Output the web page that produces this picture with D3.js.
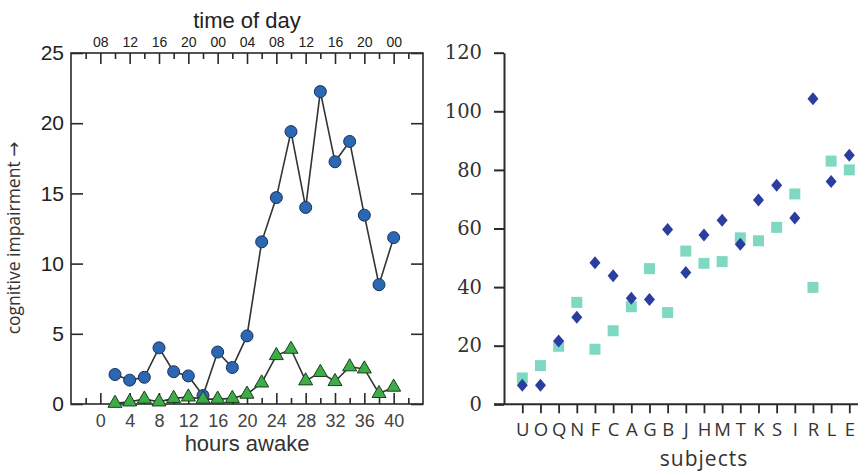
<!DOCTYPE html>
<html><head><meta charset="utf-8">
<script src="https://cdn.jsdelivr.net/npm/d3@7"></script>
<style>
html,body{margin:0;padding:0;background:#fff;}
svg{display:block;}
</style></head>
<body>
<svg id="chart" width="858" height="471"></svg>
<script>
// ---------- DATA ----------
// Left panel: hours awake vs cognitive impairment
const hoursAwake = [2,4,6,8,10,12,14,16,18,20,22,24,26,28,30,32,34,36,38,40];
const seriesCircles = [2.1,1.7,1.9,4.0,2.3,2.0,0.6,3.7,2.6,4.85,11.55,14.7,19.4,14.0,22.25,17.25,18.7,13.45,8.5,11.85];
const seriesTriangles = [0.05,0.15,0.35,0.15,0.4,0.5,0.35,0.35,0.4,0.7,1.5,3.45,3.9,1.65,2.25,1.6,2.65,2.5,0.75,1.2];
const bottomTicks = [0,4,8,12,16,20,24,28,32,36,40];
const topTickLabels = ["08","12","16","20","00","04","08","12","16","20","00"];
const leftYTicks = [0,5,10,15,20,25];

// Right panel: subjects
const subjects = ["U","O","Q","N","F","C","A","G","B","J","H","M","T","K","S","I","R","L","E"];
const seriesDiamonds = [6.5,6.5,21.6,29.7,48.3,43.9,36.2,35.8,59.7,45.0,57.8,62.8,54.6,69.7,74.8,63.6,104.3,76.0,85.0];
const seriesSquares = [9.0,13.2,19.8,34.8,18.8,25.1,33.3,46.3,31.3,52.3,48.1,48.7,56.8,55.8,60.4,71.8,39.9,83.0,80.0];
const rightYTicks = [0,20,40,60,80,100,120];

// ---------- DRAW ----------
const svg = d3.select("#chart");
const ink = "#2a2a2a";

// ===== Left panel =====
const x = d3.scaleLinear().domain([-4,44]).range([71,423]);
const y = d3.scaleLinear().domain([0,25]).range([404,53]);
const L = svg.append("g");

// box
L.append("rect").attr("x",x(-4)).attr("y",y(25)).attr("width",x(44)-x(-4)).attr("height",y(0)-y(25))
  .attr("fill","none").attr("stroke",ink).attr("stroke-width",1.6);

function styleAxis(g, size, color){
  g.select(".domain").remove();
  g.selectAll(".tick line").attr("stroke",ink).attr("stroke-width",1.6);
  g.selectAll(".tick text").attr("font-family","Liberation Sans, Arial, sans-serif")
    .attr("font-size",size).attr("fill",color||"#222");
}
const minorHours = d3.range(-2,44,4);

// bottom axis major
const gb = L.append("g").attr("transform",`translate(0,${y(0)})`)
  .call(d3.axisBottom(x).tickValues(bottomTicks).tickSizeInner(-11).tickSizeOuter(0).tickPadding(10));
styleAxis(gb,18,"#444");
const gbm = L.append("g").attr("transform",`translate(0,${y(0)})`)
  .call(d3.axisBottom(x).tickValues(minorHours).tickSizeInner(-6).tickSizeOuter(0).tickFormat(""));
styleAxis(gbm,18);

// top axis
const gt = L.append("g").attr("transform",`translate(0,${y(25)})`)
  .call(d3.axisTop(x).tickValues(bottomTicks).tickSizeInner(-11).tickSizeOuter(0).tickPadding(6)
    .tickFormat((d,i)=>topTickLabels[i]));
styleAxis(gt,14,"#222");
const gtm = L.append("g").attr("transform",`translate(0,${y(25)})`)
  .call(d3.axisTop(x).tickValues(minorHours).tickSizeInner(-6).tickSizeOuter(0).tickFormat(""));
styleAxis(gtm,14);

// left y axis
const gl = L.append("g").attr("transform",`translate(${x(-4)},0)`)
  .call(d3.axisLeft(y).tickValues(leftYTicks).tickSizeInner(-12).tickSizeOuter(0).tickPadding(7));
styleAxis(gl,21,"#222");
const gr = L.append("g").attr("transform",`translate(${x(44)},0)`)
  .call(d3.axisRight(y).tickValues(leftYTicks).tickSizeInner(-12).tickSizeOuter(0).tickFormat(""));
styleAxis(gr,20);

// axis titles
L.append("text").attr("x",247).attr("y",28).attr("text-anchor","middle")
  .attr("font-family","Liberation Sans, Arial, sans-serif").attr("font-size",22).attr("fill","#222")
  .text("time of day");
L.append("text").attr("x",247).attr("y",451).attr("text-anchor","middle")
  .attr("font-family","Liberation Sans, Arial, sans-serif").attr("font-size",22).attr("fill","#333")
  .text("hours awake");
const yl = L.append("text").attr("transform","translate(20,238) rotate(-90)").attr("text-anchor","middle")
  .attr("font-family","Open Sans, sans-serif").attr("font-size",17.5).attr("fill","#333");
yl.append("tspan").text("cognitive impairment ");
yl.append("tspan").attr("font-family","DejaVu Sans, sans-serif").attr("font-size",18).text("\u2192");

// lines
const line = d3.line().x((d,i)=>x(hoursAwake[i])).y(d=>y(d));
L.append("path").attr("d",line(seriesCircles)).attr("fill","none").attr("stroke","#333").attr("stroke-width",1.6);
L.selectAll("circle.c").data(seriesCircles).join("circle").attr("class","c")
  .attr("cx",(d,i)=>x(hoursAwake[i])).attr("cy",d=>y(d)).attr("r",6)
  .attr("fill","#2b68b3").attr("stroke","#1b2f5a").attr("stroke-width",1);
L.append("path").attr("d",line(seriesTriangles)).attr("fill","none").attr("stroke","#333").attr("stroke-width",1.6);
const tri = d3.symbol().type(d3.symbolTriangle).size(85);
L.selectAll("path.t").data(seriesTriangles).join("path").attr("class","t")
  .attr("transform",(d,i)=>`translate(${x(hoursAwake[i])},${y(d)})`).attr("d",tri)
  .attr("fill","#3dae47").attr("stroke","#1f3d1f").attr("stroke-width",1);

// ===== Right panel =====
const xr = d3.scalePoint().domain(subjects).range([522.3,849.3]);
const yr = d3.scaleLinear().domain([0,120]).range([404.3,52.7]);
const R = svg.append("g");

const gyr = R.append("g").attr("transform","translate(504,0)")
  .call(d3.axisLeft(yr).tickValues(rightYTicks).tickSize(10).tickSizeOuter(0).tickPadding(12));
gyr.select(".domain").attr("stroke",ink).attr("stroke-width",2);
gyr.selectAll(".tick line").attr("stroke",ink).attr("stroke-width",2);
gyr.selectAll(".tick text").attr("font-family","DejaVu Serif, serif").attr("font-size",19.5).attr("fill","#333");

const gxr = R.append("g").attr("transform",`translate(0,${yr(0)})`)
  .call(d3.axisBottom(xr).tickSize(9).tickSizeOuter(0).tickPadding(10));
gxr.select(".domain").remove();
gxr.selectAll(".tick line").attr("stroke",ink).attr("stroke-width",1.8);
gxr.selectAll(".tick text").attr("font-family","Open Sans, sans-serif").attr("font-size",18.5).attr("fill","#333");
R.append("line").attr("x1",494).attr("x2",858).attr("y1",yr(0)).attr("y2",yr(0))
  .attr("stroke",ink).attr("stroke-width",2);

R.append("text").attr("x",704).attr("y",466).attr("text-anchor","middle")
  .attr("font-family","Open Sans, sans-serif").attr("font-size",21).attr("letter-spacing",1).attr("fill","#333")
  .text("subjects");

// squares
R.selectAll("rect.sq").data(seriesSquares).join("rect").attr("class","sq")
  .attr("x",(d,i)=>xr(subjects[i])-5.5).attr("y",d=>yr(d)-5.5).attr("width",11).attr("height",11)
  .attr("fill","#7fd9c2");
// diamonds
R.selectAll("path.dm").data(seriesDiamonds).join("path").attr("class","dm")
  .attr("transform",(d,i)=>`translate(${xr(subjects[i])},${yr(d)})`)
  .attr("d","M0,-6.5L5.5,0L0,6.5L-5.5,0Z").attr("fill","#2b3d9e");
</script>
</body></html>
